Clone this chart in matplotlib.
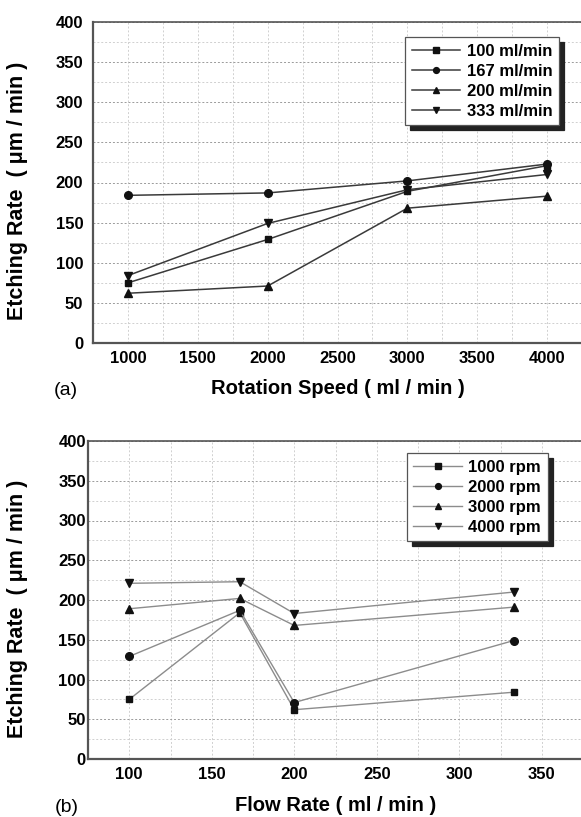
import matplotlib
matplotlib.use("Agg")
import matplotlib.pyplot as plt
from matplotlib.ticker import MultipleLocator

plt.rcParams['font.family'] = ['Liberation Sans', 'DejaVu Sans']

# Etching rate (um/min) measured at each rotation speed, one list per flow rate
speeds = [1000, 2000, 3000, 4000]
flows = [100, 167, 200, 333]
rate_100 = [75, 129, 189, 221]
rate_167 = [184, 187, 202, 223]
rate_200 = [62, 71, 168, 183]
rate_333 = [84, 149, 191, 210]

flow_labels = ['100 ml/min', '167 ml/min', '200 ml/min', '333 ml/min']
speed_labels = ['1000 rpm', '2000 rpm', '3000 rpm', '4000 rpm']
markers = ['s', 'o', '^', 'v']
marker_sizes = [4.8, 5.5, 6, 6]

rates_by_flow = [rate_100, rate_167, rate_200, rate_333]
# same measurements regrouped by rotation speed
rates_by_speed = [list(col) for col in zip(*rates_by_flow)]

YLABEL = 'Etching Rate  ( \u03bcm / min )'


def style_axes(ax, xmaj, xmin, ypad):
    ax.set_ylim(0, 400)
    ax.yaxis.set_major_locator(MultipleLocator(50))
    ax.yaxis.set_minor_locator(MultipleLocator(25))
    ax.xaxis.set_major_locator(MultipleLocator(xmaj))
    ax.xaxis.set_minor_locator(MultipleLocator(xmin))
    ax.grid(axis='y', which='major', color='#9a9a9a', lw=0.7, ls=(0, (2, 2)))
    ax.grid(axis='y', which='minor', color='#d0d0d0', lw=0.7, ls=(0, (2, 2)))
    ax.grid(axis='x', which='both', color='#d0d0d0', lw=0.7, ls=(0, (2, 2)))
    ax.set_axisbelow(True)
    ax.tick_params(which='both', length=0)
    ax.tick_params(axis='x', pad=6, labelsize=12)
    ax.tick_params(axis='y', pad=ypad, labelsize=12)
    for lab in ax.get_xticklabels() + ax.get_yticklabels():
        lab.set_fontweight('bold')
    for side in ['left', 'bottom']:
        ax.spines[side].set_color('#555555')
        ax.spines[side].set_linewidth(1.6)
    ax.spines['top'].set_color('#555555')
    ax.spines['top'].set_linewidth(1.2)
    ax.spines['right'].set_visible(False)


def add_legend(ax, anchor):
    leg = ax.legend(loc='upper left', bbox_to_anchor=anchor, borderaxespad=0,
                    prop={'weight': 'bold', 'size': 12}, handlelength=2.9,
                    handletextpad=0.4, labelspacing=0.3, borderpad=0.4,
                    fancybox=False, framealpha=1, edgecolor='#555555',
                    shadow={'ox': 3.5, 'oy': -3.5, 'color': '#222222', 'alpha': 1})
    leg.get_frame().set_linewidth(0.9)
    for h in leg.legend_handles:
        h.set_markersize(4.2)
    return leg


fig = plt.figure(figsize=(5.81, 8.17), dpi=100)

# (a) etching rate versus rotation speed
ax1 = fig.add_axes([93 / 581, 1 - 343 / 817, 489 / 581, 321 / 817])
for vals, lab, m, ms in zip(rates_by_flow, flow_labels, markers, marker_sizes):
    ax1.plot(speeds, vals, color='#3a3a3a', lw=1.1, marker=m, ms=ms,
             mfc='#111111', mec='#111111', label=lab)
ax1.set_xlim(750, 4250)
style_axes(ax1, 500, 250, 7)
ax1.set_xlabel('Rotation Speed ( ml / min )', fontsize=14.5, fontweight='bold', labelpad=9)
add_legend(ax1, (0.638, 0.953))

# (b) etching rate versus flow rate
ax2 = fig.add_axes([88 / 581, 1 - 759 / 817, 495 / 581, 318 / 817])
for vals, lab, m, ms in zip(rates_by_speed, speed_labels, markers, marker_sizes):
    ax2.plot(flows, vals, color='#8c8c8c', lw=1.0, marker=m, ms=ms,
             mfc='#111111', mec='#111111', label=lab)
ax2.set_xlim(75, 375)
style_axes(ax2, 50, 25, 1.5)
ax2.set_xlabel('Flow Rate ( ml / min )', fontsize=14.5, fontweight='bold', labelpad=10)
add_legend(ax2, (0.644, 0.962))

# y labels and panel tags placed in figure pixels
fig.text(18 / 581, 1 - 320 / 817, YLABEL, rotation=90, ha='center', va='bottom',
         fontsize=15.5, fontweight='bold')
fig.text(18 / 581, 1 - 738 / 817, YLABEL, rotation=90, ha='center', va='bottom',
         fontsize=15.5, fontweight='bold')
fig.text(66 / 581, 1 - 391 / 817, '(a)', ha='center', va='center', fontsize=14)
fig.text(67 / 581, 1 - 807 / 817, '(b)', ha='center', va='center', fontsize=14)

fig.savefig('out.png', dpi=100, facecolor='white')
